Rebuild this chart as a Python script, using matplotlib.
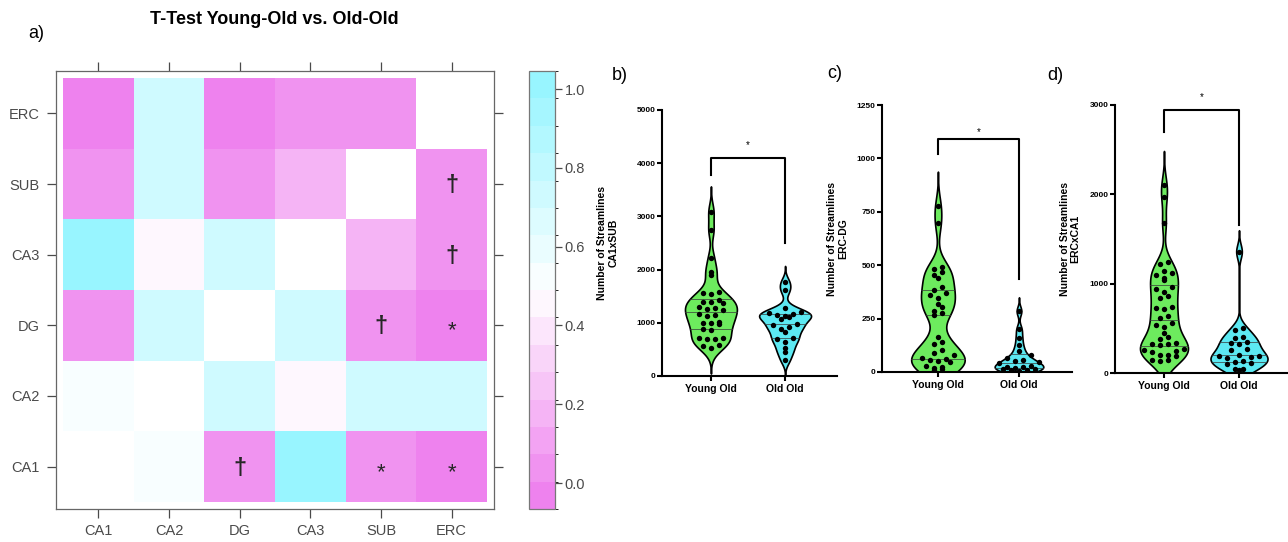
import numpy as np
import matplotlib
matplotlib.use('Agg')
import matplotlib.pyplot as plt
from matplotlib.colors import ListedColormap, BoundaryNorm, to_rgb

plt.rcParams['font.family'] = ['Liberation Sans', 'DejaVu Sans']

# ---------------- data ----------------
regions = ['CA1', 'CA2', 'DG', 'CA3', 'SUB', 'ERC']
# symmetric p-value matrix (rows = y labels bottom->top, cols = x labels)
p_matrix = [
    [np.nan, 0.53, 0.07, 0.98, 0.03, 0.001],
    [0.53, np.nan, 0.73, 0.45, 0.73, 0.73],
    [0.07, 0.73, np.nan, 0.73, 0.06, 0.002],
    [0.98, 0.45, 0.73, np.nan, 0.17, 0.07],
    [0.03, 0.73, 0.06, 0.17, np.nan, 0.06],
    [0.001, 0.73, 0.002, 0.07, 0.06, np.nan],
]
cbar_ticks = [0.0, 0.2, 0.4, 0.6, 0.8, 1.0]

groups = ['Young Old', 'Old Old']

ca1xsub_young = [3090, 2745, 2212, 1960, 1900, 1580, 1560, 1540, 1420, 1400, 1390,
                 1370, 1290, 1270, 1260, 1240, 1160, 1150, 1130, 1010, 1000, 990,
                 980, 880, 860, 720, 710, 700, 690, 590, 570, 520]
ca1xsub_old = [1760, 1610, 1270, 1200, 1180, 1170, 1150, 1120, 1100, 1080, 980,
               960, 920, 880, 820, 720, 700, 640, 520, 450, 300]

ercdg_young = [775, 696, 490, 480, 470, 455, 440, 400, 385, 370, 360, 345, 320,
               305, 285, 275, 265, 165, 140, 130, 105, 90, 80, 65, 60, 55, 50,
               45, 30, 25, 20, 15, 10]
ercdg_old = [285, 200, 160, 125, 100, 80, 65, 55, 50, 45, 40, 30, 25, 22, 18,
             15, 12, 10, 8, 5]

ercxca1_young = [2110, 1965, 1675, 1240, 1225, 1140, 1120, 1100, 1060, 1040, 960,
                 940, 910, 860, 840, 740, 730, 720, 640, 620, 560, 540, 520, 450,
                 400, 380, 340, 330, 320, 310, 270, 260, 250, 240, 200, 200, 190,
                 150, 140, 130]
ercxca1_old = [1360, 500, 480, 400, 390, 350, 340, 330, 270, 260, 195, 200, 190,
               180, 170, 130, 120, 110, 100, 50, 40, 30]

# ---------------- figure ----------------
W, H = 1288, 542
fig = plt.figure(figsize=(W / 100, H / 100), dpi=100)


def px_axes(l, t, r, b):
    return fig.add_axes([l / W, 1 - b / H, (r - l) / W, (b - t) / H])


# ---------- heatmap ----------
n_levels = 16
lo, hi = -0.066, 1.046
bounds = np.linspace(lo, hi, n_levels + 1)
c_lo, c_mid, c_hi = np.array(to_rgb('violet')), np.array([1, 1, 1]), np.array(to_rgb('#98F5FF'))
cols = []
for k in range(n_levels):
    t = k / (n_levels - 1)
    if t <= 0.5:
        f = t / 0.5
        cols.append(c_lo + (c_mid - c_lo) * f)
    else:
        f = (t - 0.5) / 0.5
        cols.append(c_mid + (c_hi - c_mid) * f)
cmap = ListedColormap(cols)
cmap.set_bad('white')
norm = BoundaryNorm(bounds, cmap.N)

grey = '#4a4a4a'
ax = px_axes(56, 71, 494, 509)
P = np.ma.masked_invalid(np.array(p_matrix, float))
edges = np.arange(len(regions) + 1) + 0.5
mesh = ax.pcolormesh(edges, edges, P, cmap=cmap, norm=norm, edgecolors='none')
ax.set_xlim(0.4, 6.6)
ax.set_ylim(0.4, 6.6)
pos = np.arange(1, len(regions) + 1)
ax.set_xticks(pos)
ax.set_xticklabels(regions)
ax.set_yticks(pos)
ax.set_yticklabels(regions)
ax.tick_params(direction='out', length=6.5, width=0.9, color=grey, labelcolor=grey,
               labelsize=10.5, top=True, right=True, labeltop=False, labelright=False)
ax.tick_params(axis='y', pad=5.5)
ax.tick_params(axis='x', pad=4.5)
for s in ax.spines.values():
    s.set_color('#666666')
    s.set_linewidth(0.9)

Parr = np.array(p_matrix, float)
for i in range(len(regions)):
    for j in range(len(regions)):
        if j > i and not np.isnan(Parr[i, j]):
            pv = Parr[i, j]
            if pv < 0.05:
                ax.text(j + 1, i + 1 - 0.08, '*', ha='center', va='center', fontsize=16,
                        color='#262626')
            elif pv < 0.1:
                ax.text(j + 1, i + 1 - 0.02, '\u2020', ha='center', va='center', fontsize=17,
                        fontweight='bold', color='#262626')

# colorbar
cax = px_axes(529, 71, 555, 509)
cb = fig.colorbar(mesh, cax=cax, ticks=cbar_ticks, boundaries=bounds)
cb.ax.set_yticklabels([f'{t:.1f}' for t in cbar_ticks])
cb.ax.tick_params(direction='out', length=5, width=0.9, color=grey, labelcolor=grey,
                  labelsize=10.5, pad=2)
cb.outline.set_edgecolor('#777777')
cb.outline.set_linewidth(0.9)

fig.text(274 / W, 1 - 19 / H, 'T-Test Young-Old vs. Old-Old', ha='center', va='center',
         fontsize=13, fontweight='bold')
fig.text(28 / W, 1 - 34 / H, 'a)', ha='left', va='center', fontsize=13)


# ---------- violin panels ----------
green = '#6DEB5E'
cyan = '#5CE9F2'


def kde_outline(vals, bw_factor=0.5):
    v = np.asarray(vals, float)
    n = len(v)
    bw = bw_factor * 1.06 * v.std(ddof=1) * n ** (-0.2)
    y = np.linspace(v.min() - 3 * bw, v.max() + 3 * bw, 600)
    d = np.exp(-0.5 * ((y[:, None] - v[None, :]) / bw) ** 2).sum(1)
    return y, d / d.max()


def binned_swarm(vals, px_per_y, px_per_x, bin_px=7.0, spacing_px=8.0):
    v = np.asarray(vals, float)
    bins = np.round(v * px_per_y / bin_px).astype(int)
    xs = np.zeros(len(v))
    for bval in np.unique(bins):
        idx = np.where(bins == bval)[0]
        idx = idx[np.argsort(v[idx])]
        n = len(idx)
        offs = (np.arange(n) - (n - 1) / 2) * spacing_px
        # interleave so the sorted order alternates around centre
        order = np.argsort(np.abs(offs), kind='stable')
        for k, o in zip(idx, offs[order]):
            xs[k] = o
    return xs / px_per_x


def violin_panel(box, xlim, ymax, yticks, ylabel, data, letter, letter_xy, label_x,
                 bracket, star_y, widths):
    l, t, r, b = box
    axv = px_axes(l, t, r, b)
    axv.set_xlim(*xlim)
    axv.set_ylim(0, ymax)
    px_per_x = (r - l) / (xlim[1] - xlim[0])
    px_per_y = (b - t) / ymax
    for k, (vals, col) in enumerate(zip(data, [green, cyan])):
        y, d = kde_outline(vals)
        w = widths[k] * d
        axv.fill_betweenx(y, k - w, k + w, facecolor=col, edgecolor='black', linewidth=1.2, zorder=2)
        for q in np.percentile(vals, [25, 50, 75]):
            wq = np.interp(q, y, w)
            axv.plot([k - wq, k + wq], [q, q], color='#3a3a3a', lw=0.6, alpha=0.85, zorder=3)
        xs = binned_swarm(vals, px_per_y, px_per_x)
        axv.scatter(k + xs, vals, s=15, color='black', zorder=4, linewidths=0)
    # bracket
    yl, yt, yr = bracket
    axv.plot([0, 0, 1, 1], [yl, yt, yt, yr], color='black', lw=1.5, clip_on=False, zorder=5)
    axv.text(0.5, star_y, '*', ha='center', va='center', fontsize=7, clip_on=False)
    for s in ['top', 'right']:
        axv.spines[s].set_visible(False)
    for s in ['left', 'bottom']:
        axv.spines[s].set_linewidth(1.5)
    axv.set_yticks(yticks)
    axv.set_yticklabels([str(v) for v in yticks], fontweight='bold')
    axv.set_xticks([0, 1])
    axv.set_xticklabels(groups, fontweight='bold')
    axv.tick_params(axis='y', direction='out', length=3.5, width=1.5, labelsize=6, pad=1)
    axv.tick_params(axis='x', direction='out', length=3.5, width=1.5, labelsize=7.5, pad=2)
    axv.set_ylabel(ylabel, fontsize=7.5, fontweight='bold', linespacing=1.1)
    axv.yaxis.set_label_coords(label_x, 0.5)
    fig.text(letter_xy[0] / W, 1 - letter_xy[1] / H, letter, ha='left', va='center', fontsize=13)
    return axv


violin_panel((662, 110, 837, 376), (-0.66, 1.70), 5000, [0, 1000, 2000, 3000, 4000, 5000],
             'Number of Streamlines\nCA1xSUB', [ca1xsub_young, ca1xsub_old], 'b)', (612, 76),
             -0.25, (3780, 4100, 2500), 4340, (0.35, 0.35))
violin_panel((882, 105, 1072, 372), (-0.69, 1.654), 1250, [0, 250, 500, 750, 1000, 1250],
             'Number of Streamlines\nERC-DG', [ercdg_young, ercdg_old], 'c)', (827, 74),
             -0.18, (1020, 1090, 435), 1124, (0.33, 0.30))
violin_panel((1115, 105, 1288, 373), (-0.653, 1.653), 3000, [0, 1000, 2000, 3000],
             'Number of Streamlines\nERCxCA1', [ercxca1_young, ercxca1_old], 'd)', (1047, 76),
             -0.2, (2700, 2944, 1657), 3090, (0.32, 0.38))

fig.savefig('out.png', dpi=100)
